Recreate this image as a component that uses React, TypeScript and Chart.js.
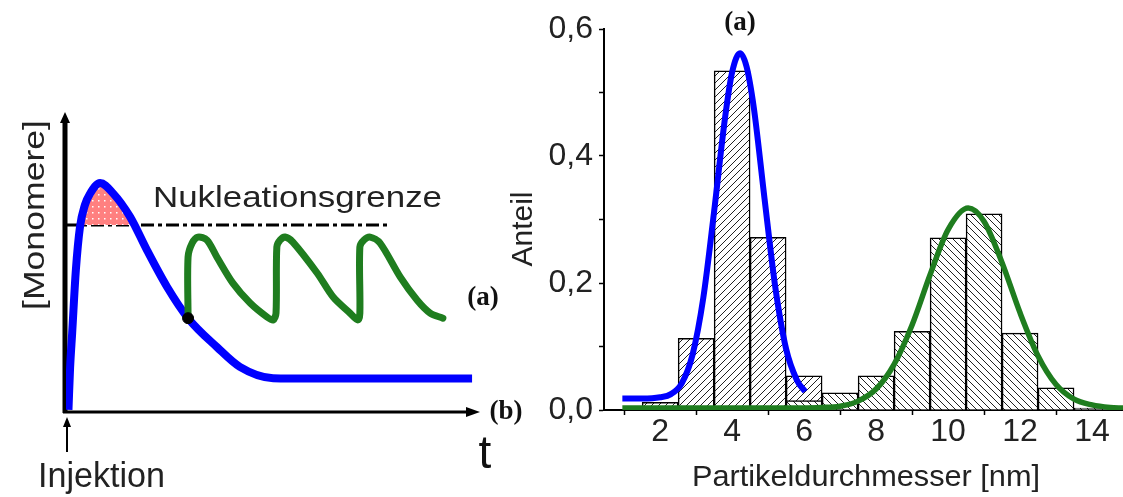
import React, { useEffect, useRef } from 'react';
import { Chart, registerables } from 'chart.js';

Chart.register(...registerables);

// ---------- Left panel (schematic, arbitrary units) ----------
const blueT = [0.06, 0.1, 0.15, 0.24, 0.34, 0.46, 0.58, 0.83, 1.14, 1.56, 1.97, 2.46, 2.97, 3.67, 4.23, 5.04, 6.0, 9.88];
const blueC = [0.07, 1.5, 2.66, 4.78, 6.23, 6.97, 7.34, 7.71, 7.37, 6.57, 5.45, 4.21, 3.16, 2.19, 1.52, 1.14, 1.13, 1.13];

const greenT = [2.97, 2.97, 3.07, 3.21, 3.43, 3.67, 4.06, 4.48, 4.89, 5.04, 5.11, 5.13, 5.21, 5.33, 5.52, 6.11, 6.5, 6.91, 7.1, 7.15, 7.15, 7.25, 7.4, 7.64, 8.13, 8.54, 8.86, 9.17];
const greenC = [3.16, 5.22, 5.69, 5.89, 5.79, 5.22, 4.34, 3.67, 3.2, 3.1, 3.33, 5.56, 5.79, 5.89, 5.72, 4.68, 3.87, 3.33, 3.1, 3.33, 5.56, 5.79, 5.89, 5.69, 4.55, 3.77, 3.33, 3.16];

const thresholdT = [0, 7.88];
const thresholdC = [6.3, 6.3];

const dotT = [2.97];
const dotC = [3.16];

// ---------- Right panel (histogram) ----------
const histAx = [2, 3, 4, 5, 6];
const histAy = [0.012, 0.113, 0.534, 0.272, 0.054];
const histBx = [6, 7, 8, 9, 10, 11, 12, 13, 14];
const histBy = [0.015, 0.027, 0.054, 0.124, 0.271, 0.309, 0.121, 0.035, 0.003];

const fitAx = [0.95, 1.5, 2.0, 2.3, 2.6, 2.9, 3.2, 3.5, 3.8, 4.0, 4.22, 4.4, 4.6, 4.9, 5.2, 5.5, 5.8, 6.03];
const fitAy = [0.018, 0.018, 0.02, 0.025, 0.042, 0.087, 0.177, 0.313, 0.459, 0.532, 0.562, 0.541, 0.477, 0.333, 0.193, 0.096, 0.047, 0.029];
const fitBx = [0.95, 3, 5, 6.5, 7.0, 7.5, 8.0, 8.5, 9.0, 9.5, 10.0, 10.56, 11.0, 11.5, 12.0, 12.5, 13.0, 13.5, 14.0, 14.5, 14.86];
const fitBy = [0.003, 0.003, 0.003, 0.004, 0.006, 0.014, 0.033, 0.072, 0.134, 0.213, 0.284, 0.318, 0.297, 0.232, 0.153, 0.085, 0.04, 0.017, 0.008, 0.004, 0.003];

const yTicks = [0, 0.1, 0.2, 0.3, 0.4, 0.5, 0.6];
const xTicks = [1, 2, 3, 4, 5, 6, 7, 8, 9, 10, 11, 12, 13, 14];

const W = 1123;
const H = 497;
const SANS = "'Liberation Sans', Arial, sans-serif";
const SERIF = "'Liberation Serif', 'Times New Roman', serif";

const zip = (xs: number[], ys: number[]) => xs.map((x, i) => ({ x, y: ys[i] }));

function makeHatch(dir: '/' | '\\') {
  const s = 7;
  const c = document.createElement('canvas');
  c.width = s;
  c.height = s;
  const g = c.getContext('2d')!;
  g.fillStyle = '#fff';
  g.fillRect(0, 0, s, s);
  g.strokeStyle = '#222';
  g.lineWidth = 1;
  g.beginPath();
  if (dir === '/') {
    g.moveTo(-1, s + 1); g.lineTo(s + 1, -1);
    g.moveTo(-1, 1); g.lineTo(1, -1);
    g.moveTo(s - 1, s + 1); g.lineTo(s + 1, s - 1);
  } else {
    g.moveTo(-1, -1); g.lineTo(s + 1, s + 1);
    g.moveTo(s - 1, -1); g.lineTo(s + 1, 1);
    g.moveTo(-1, s - 1); g.lineTo(1, s + 1);
  }
  g.stroke();
  return g.createPattern(c, 'repeat')!;
}

function makeDots() {
  const s = 6;
  const c = document.createElement('canvas');
  c.width = s;
  c.height = s;
  const g = c.getContext('2d')!;
  g.fillStyle = '#ff8080';
  g.fillRect(0, 0, s, s);
  g.fillStyle = '#ffffff';
  g.fillRect(2, 2, 1.5, 1.5);
  return g.createPattern(c, 'repeat')!;
}

function fitText(
  ctx: CanvasRenderingContext2D,
  text: string,
  x: number,
  y: number,
  width: number,
  font: string,
  opts: { align?: 'left' | 'center'; rotate?: boolean; baseline?: CanvasTextBaseline; color?: string } = {}
) {
  ctx.save();
  ctx.font = font;
  ctx.fillStyle = opts.color || '#222';
  ctx.textBaseline = opts.baseline || 'alphabetic';
  ctx.textAlign = 'left';
  const m = ctx.measureText(text).width;
  const sx = width / m;
  ctx.translate(x, y);
  if (opts.rotate) ctx.rotate(-Math.PI / 2);
  ctx.scale(sx, 1);
  const off = opts.align === 'center' ? -m / 2 : 0;
  ctx.fillText(text, off, 0);
  ctx.restore();
}

function plainText(ctx: CanvasRenderingContext2D, text: string, x: number, y: number, font: string, color = '#111') {
  ctx.save();
  ctx.font = font;
  ctx.fillStyle = color;
  ctx.textAlign = 'center';
  ctx.textBaseline = 'middle';
  ctx.fillText(text, x, y);
  ctx.restore();
}

export default function App() {
  const leftRef = useRef<HTMLCanvasElement>(null);
  const rightRef = useRef<HTMLCanvasElement>(null);

  useEffect(() => {
    const dots = makeDots();
    const hatchA = makeHatch('/');
    const hatchB = makeHatch('\\');

    const leftDecor = {
      id: 'leftDecor',
      beforeDatasetsDraw(chart: any) {
        const ctx = chart.ctx as CanvasRenderingContext2D;
        const x0 = chart.scales.x.getPixelForValue(0);
        const y0 = chart.scales.y.getPixelForValue(0);
        const yTop = chart.scales.y.getPixelForValue(10);
        const xEnd = chart.scales.x.getPixelForValue(10);
        ctx.save();
        ctx.strokeStyle = '#000';
        ctx.fillStyle = '#000';
        // vertical axis
        ctx.lineWidth = 5;
        ctx.beginPath();
        ctx.moveTo(x0 - 1, y0 + 1);
        ctx.lineTo(x0 - 1, yTop + 6);
        ctx.stroke();
        ctx.beginPath();
        ctx.moveTo(x0 - 1, yTop - 3);
        ctx.lineTo(x0 - 6, yTop + 8);
        ctx.lineTo(x0 + 4, yTop + 8);
        ctx.closePath();
        ctx.fill();
        // horizontal axis
        ctx.lineWidth = 3;
        ctx.beginPath();
        ctx.moveTo(x0 - 3, y0);
        ctx.lineTo(xEnd - 8, y0);
        ctx.stroke();
        ctx.beginPath();
        ctx.moveTo(xEnd + 3, y0);
        ctx.lineTo(xEnd - 11, y0 - 5);
        ctx.lineTo(xEnd - 11, y0 + 5);
        ctx.closePath();
        ctx.fill();
        // injection arrow
        ctx.lineWidth = 2;
        ctx.beginPath();
        ctx.moveTo(x0 + 1, 452);
        ctx.lineTo(x0 + 1, 424);
        ctx.stroke();
        ctx.beginPath();
        ctx.moveTo(x0 + 1, 417);
        ctx.lineTo(x0 - 3, 427);
        ctx.lineTo(x0 + 5, 427);
        ctx.closePath();
        ctx.fill();
        ctx.restore();
      },
      afterDraw(chart: any) {
        const ctx = chart.ctx as CanvasRenderingContext2D;
        fitText(ctx, 'Nukleationsgrenze', 153, 207, 289, `30px ${SANS}`);
        fitText(ctx, '[Monomere]', 44, 310, 190, `30px ${SANS}`, { rotate: true });
        fitText(ctx, 'Injektion', 38, 487, 127, `35px ${SANS}`);
        plainText(ctx, 't', 485, 455, `46px ${SANS}`, '#111');
        plainText(ctx, '(a)', 483, 298, `bold 27px ${SERIF}`);
        plainText(ctx, '(b)', 506, 412, `bold 27px ${SERIF}`);
      },
    };

    const left = new Chart(leftRef.current!, {
      type: 'line',
      data: {
        datasets: [
          {
            data: zip(dotT, dotC),
            showLine: false,
            pointRadius: 5.5,
            pointBackgroundColor: '#000',
            pointBorderColor: '#000',
            order: 0,
          },
          {
            data: zip(greenT, greenC),
            borderColor: '#1f7d1f',
            borderWidth: 7,
            pointRadius: 0,
            tension: 0.3,
            borderCapStyle: 'round',
            borderJoinStyle: 'round',
            order: 1,
          },
          {
            data: zip(blueT, blueC),
            borderColor: '#0000ff',
            borderWidth: 8,
            pointRadius: 0,
            cubicInterpolationMode: 'monotone',
            borderCapStyle: 'butt',
            borderJoinStyle: 'round',
            fill: { target: { value: 6.3 }, above: dots, below: 'rgba(0,0,0,0)' },
            order: 2,
          },
          {
            data: zip(thresholdT, thresholdC),
            borderColor: '#000',
            borderWidth: 3,
            borderDash: [13, 4, 4, 4],
            pointRadius: 0,
            order: 3,
          },
        ] as any,
      },
      options: {
        responsive: false,
        animation: false,
        events: [],
        layout: { padding: { left: 66, right: W - 477, top: 115, bottom: H - 412 } },
        plugins: { legend: { display: false }, tooltip: { enabled: false } },
        scales: {
          x: { type: 'linear', min: 0, max: 10, display: false },
          y: { type: 'linear', min: 0, max: 10, display: false },
        },
      } as any,
      plugins: [leftDecor],
    });

    const rightDecor = {
      id: 'rightDecor',
      afterDraw(chart: any) {
        const ctx = chart.ctx as CanvasRenderingContext2D;
        plainText(ctx, '(a)', 740, 23, `bold 27px ${SERIF}`);
        fitText(ctx, 'Anteil', 532, 229, 75, `30px ${SANS}`, { rotate: true, align: 'center' });
        fitText(ctx, 'Partikeldurchmesser [nm]', 866, 486, 348, `30px ${SANS}`, { align: 'center' });
      },
    };

    const right = new Chart(rightRef.current!, {
      type: 'bar',
      data: {
        datasets: [
          {
            type: 'line',
            data: zip(fitAx, fitAy),
            borderColor: '#0000ff',
            borderWidth: 6,
            pointRadius: 0,
            cubicInterpolationMode: 'monotone',
            order: 0,
          },
          {
            type: 'line',
            data: zip(fitBx, fitBy),
            borderColor: '#1f7d1f',
            borderWidth: 5.5,
            pointRadius: 0,
            cubicInterpolationMode: 'monotone',
            order: 0,
          },
          {
            type: 'bar',
            data: zip(histBx, histBy),
            backgroundColor: hatchB,
            borderColor: '#000',
            borderWidth: 1.5,
            grouped: false,
            barPercentage: 1,
            categoryPercentage: 1,
            order: 1,
          },
          {
            type: 'bar',
            data: zip(histAx, histAy),
            backgroundColor: hatchA,
            borderColor: '#000',
            borderWidth: 1.5,
            grouped: false,
            barPercentage: 1,
            categoryPercentage: 1,
            order: 2,
          },
        ] as any,
      },
      options: {
        responsive: false,
        animation: false,
        events: [],
        layout: { padding: { left: 604 - 80, right: 0, top: 29, bottom: 0 } },
        plugins: { legend: { display: false }, tooltip: { enabled: false } },
        scales: {
          x: {
            type: 'linear',
            offset: false,
            min: 0.44,
            max: 14.86,
            afterBuildTicks: (s: any) => {
              s.ticks = xTicks.map((v) => ({ value: v }));
            },
            afterFit: (s: any) => {
              s.height = H - 410;
              s.paddingLeft = 0;
              s.paddingRight = 0;
            },
            ticks: {
              autoSkip: false,
              maxRotation: 0,
              padding: -2,
              color: '#222',
              font: { family: SANS, size: 32 },
              callback: (v: any) => (Number(v) % 2 === 0 ? String(v) : ''),
            },
            grid: {
              offset: false,
              drawOnChartArea: false,
              drawTicks: true,
              tickLength: 5,
              tickWidth: 1.5,
              tickColor: (c: any) => (c.tick && c.tick.value % 2 === 1 ? '#000' : 'rgba(0,0,0,0)'),
            },
            border: { display: true, color: '#000', width: 2 },
          },
          y: {
            type: 'linear',
            min: 0,
            max: 0.6,
            afterBuildTicks: (s: any) => {
              s.ticks = yTicks.map((v) => ({ value: v }));
            },
            afterFit: (s: any) => {
              s.width = 80;
              s.paddingTop = 0;
              s.paddingBottom = 0;
            },
            ticks: {
              autoSkip: false,
              padding: 6,
              color: '#222',
              font: { family: SANS, size: 32 },
              callback: (v: any) => {
                const r = Math.round(Number(v) * 10);
                return r % 2 === 0 ? '0,' + r : '';
              },
            },
            grid: {
              drawOnChartArea: false,
              drawTicks: true,
              tickLength: 5,
              tickWidth: 1.5,
              tickColor: '#000',
            },
            border: { display: true, color: '#000', width: 2 },
          },
        },
      } as any,
      plugins: [rightDecor],
    });

    return () => {
      left.destroy();
      right.destroy();
    };
  }, []);

  return (
    <div style={{ position: 'fixed', left: 0, top: 0, width: W, height: H, background: '#fff' }}>
      <canvas ref={leftRef} width={W} height={H} style={{ position: 'absolute', left: 0, top: 0 }} />
      <canvas ref={rightRef} width={W} height={H} style={{ position: 'absolute', left: 0, top: 0 }} />
    </div>
  );
}
